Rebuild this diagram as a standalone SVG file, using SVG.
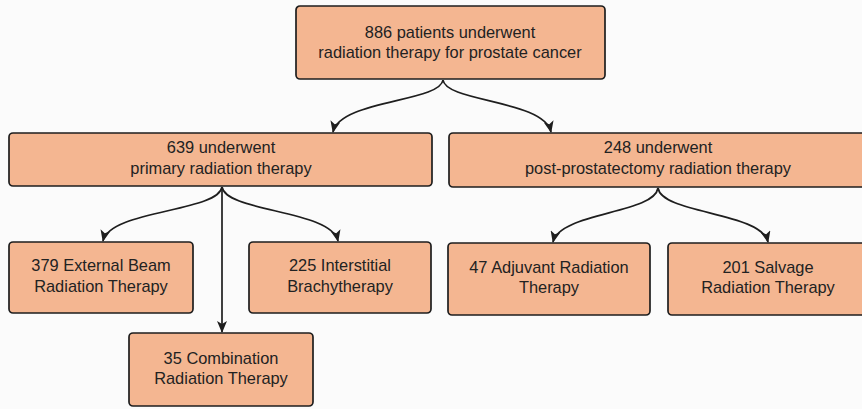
<svg xmlns="http://www.w3.org/2000/svg" width="862" height="409" viewBox="0 0 862 409">
<defs>
<marker id="ah" viewBox="0 0 12 10" refX="11" refY="5" markerWidth="12" markerHeight="10" markerUnits="userSpaceOnUse" orient="auto">
<path d="M0,0 L12,5 L0,10 L3,5 z" fill="#1e1e1e"/>
</marker>
<style>
.box{fill:#f4b691;stroke:#1e1e1e;stroke-width:1.7}
.t{font-family:"Liberation Sans",Arial,sans-serif;font-size:16.4px;fill:#222;text-anchor:middle}
.c{fill:none;stroke:#1e1e1e;stroke-width:1.7;marker-end:url(#ah)}
</style>
</defs>
<rect width="862" height="409" fill="#fbfbfb"/>
<g id="connectors">
<path class="c" d="M443,80 C440,102 340,100 333,132"/>
<path class="c" d="M443,80 C446,102 544,100 551,132"/>
<path class="c" d="M222,187 C218,212 110,210 103,241"/>
<path class="c" d="M222,187 C226,212 331,210 338,241"/>
<path class="c" d="M222,187 L222,332"/>
<path class="c" d="M658,188 C654,214 560,212 553,242"/>
<path class="c" d="M658,188 C662,214 761,212 768,242"/>
</g>
<g id="n886">
<rect class="box" x="296" y="6" width="309" height="73" rx="4"/>
<text class="t" x="450" y="38">886 patients underwent</text>
<text class="t" x="450" y="58">radiation therapy for prostate cancer</text>
</g>
<g id="n639">
<rect class="box" x="9" y="133" width="423" height="53" rx="4"/>
<text class="t" x="221" y="153">639 underwent</text>
<text class="t" x="221" y="174">primary radiation therapy</text>
</g>
<g id="n248">
<rect class="box" x="449" y="133" width="420" height="54" rx="4"/>
<text class="t" x="658" y="153">248 underwent</text>
<text class="t" x="658" y="174">post-prostatectomy radiation therapy</text>
</g>
<g id="n379">
<rect class="box" x="9" y="242" width="184" height="71" rx="4"/>
<text class="t" x="101" y="271">379 External Beam</text>
<text class="t" x="101" y="292">Radiation Therapy</text>
</g>
<g id="n225">
<rect class="box" x="249" y="242" width="182" height="71" rx="4"/>
<text class="t" x="340" y="271">225 Interstitial</text>
<text class="t" x="340" y="292">Brachytherapy</text>
</g>
<g id="n35">
<rect class="box" x="129" y="333" width="184" height="73" rx="4"/>
<text class="t" x="221" y="364">35 Combination</text>
<text class="t" x="221" y="384">Radiation Therapy</text>
</g>
<g id="n47">
<rect class="box" x="448" y="243" width="202" height="72" rx="4"/>
<text class="t" x="549" y="273">47 Adjuvant Radiation</text>
<text class="t" x="549" y="293">Therapy</text>
</g>
<g id="n201">
<rect class="box" x="668" y="243" width="202" height="72" rx="4"/>
<text class="t" x="768" y="273">201 Salvage</text>
<text class="t" x="768" y="293">Radiation Therapy</text>
</g>
</svg>
